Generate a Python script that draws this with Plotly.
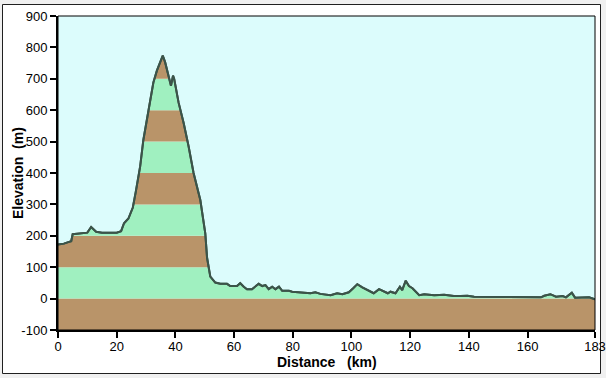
import plotly.graph_objects as go

distance_km = [0, 2, 3.5, 4.5, 5, 10, 11.3, 13, 15, 20, 21.5, 22.5, 24, 25.5, 26.5,
               28, 29.1, 30.3, 31.4, 32.5, 33.7, 34.8, 35.7, 36.5, 37.7, 38.5, 39.2, 39.6,
               41.1, 42.8, 44.5, 46.2, 48.5, 50.2, 50.8, 51.9, 53.6, 55.3, 57.6, 58.7, 61,
               62.1, 63.3, 64.4, 66.1, 67.3, 68.4, 69.6, 70.7, 71.8, 73, 74.1, 75.3, 76.4,
               78.7, 79.8, 82.6, 86, 87.7, 89.4, 92.9, 95.1, 96.9, 99.1, 100.6, 102, 103.7,
               105.4, 107.6, 109.4, 111.1, 112.4, 113.3, 115, 116.5, 117.3, 118.5, 119.6,
               120.8, 123.1, 124.8, 128.2, 131.6, 134.9, 137.2, 139.5, 141.8, 150.9, 154.3,
               164.6, 165.7, 167.8, 169.7, 172, 173.1, 175.1, 176.2, 178.8, 181, 183]
elevation_m = [172, 175, 180, 183, 205, 210, 228, 213, 210, 210, 215, 240, 255, 290, 340,
               421, 506, 571, 635, 688, 726, 753, 774, 753, 704, 678, 710, 699,
               624, 560, 485, 400, 314, 207, 130, 70, 51, 47, 47, 40, 40,
               49, 38, 30, 30, 38, 47, 40, 43, 30, 38, 30, 38, 25,
               25, 22, 20, 17, 20, 15, 11, 17, 14, 20, 33, 46, 36,
               27, 17, 30, 22, 17, 22, 17, 38, 27, 57, 40,
               33, 11, 14, 11, 12, 8, 8, 9, 6, 6, 4,
               4, 9, 14, 6, 8, 4, 19, 3, 3, 4, -2]

y_ticks = [-100, 0, 100, 200, 300, 400, 500, 600, 700, 800, 900]
x_ticks = [0, 20, 40, 60, 80, 100, 120, 140, 160, 183]

BROWN = "#B99469"
GREEN = "#A0F0C0"
SKY = "#DCFCFC"
LINE = "#3B5449"

x_min, x_max = 0, 183
y_min, y_max = -100, 900

fig = go.Figure()

# profile line
fig.add_trace(go.Scatter(x=distance_km, y=elevation_m, mode="lines",
                         line=dict(color=LINE, width=2), hoverinfo="skip",
                         showlegend=False))
# sky above the profile
fig.add_trace(go.Scatter(x=distance_km, y=[y_max] * len(distance_km), mode="lines",
                         line=dict(width=0, color=SKY), fill="tonexty",
                         fillcolor=SKY, hoverinfo="skip", showlegend=False))
# redraw line on top
fig.add_trace(go.Scatter(x=distance_km, y=elevation_m, mode="lines",
                         line=dict(color=LINE, width=2), hoverinfo="skip",
                         showlegend=False))

shapes = []
L, R, T, B = 58, 595, 16, 330
W, H = R - L, B - T
def px(p):
    return (p - L) / W
def py(p):
    return (B - p) / H
# outer white panel with border
shapes.append(dict(type="rect", xref="paper", yref="paper",
                   x0=px(2.5), x1=px(600.5), y0=py(373.5), y1=py(4.5),
                   fillcolor="white", line=dict(color="#202020", width=1),
                   layer="below"))
# elevation bands
for i in range(len(y_ticks) - 1):
    shapes.append(dict(type="rect", xref="x", yref="y",
                       x0=x_min, x1=x_max, y0=y_ticks[i], y1=y_ticks[i + 1],
                       fillcolor=BROWN if i % 2 == 0 else GREEN,
                       line=dict(width=0), layer="below"))
# thin frame around plot area
shapes.append(dict(type="rect", xref="paper", yref="paper", x0=0, x1=1, y0=0, y1=1,
                   line=dict(color="black", width=1), layer="above"))

font_ticks = dict(family="Liberation Sans, Arial, sans-serif", size=13, color="black")
font_title = dict(family="Liberation Sans, Arial, sans-serif", size=14, color="black")

annotations = [
    dict(text="<b>Distance\u00a0\u00a0\u00a0(km)</b>", xref="paper", yref="paper",
         x=px(327), y=py(362), xanchor="center", yanchor="middle",
         showarrow=False, font=font_title),
    dict(text="<b>Elevation\u00a0\u00a0(m)</b>", xref="paper", yref="paper",
         x=px(18), y=py(173), xanchor="center", yanchor="middle", textangle=-90,
         showarrow=False, font=font_title),
]

fig.update_layout(
    width=606, height=378,
    margin=dict(l=L, r=606 - R, t=T, b=378 - B, autoexpand=False),
    paper_bgcolor="#F0F0F0", plot_bgcolor=SKY,
    shapes=shapes, annotations=annotations,
    showlegend=False,
    xaxis=dict(range=[x_min, x_max], tickvals=x_ticks, ticktext=[str(v) for v in x_ticks],
               automargin=False,
               showgrid=False, zeroline=False, showline=True, linecolor="black",
               linewidth=2, ticks="outside", ticklen=6, tickwidth=2, tickcolor="black",
               tickfont=font_ticks, ticklabelstandoff=-3),
    yaxis=dict(range=[y_min, y_max], tickvals=y_ticks, ticktext=[str(v) for v in y_ticks],
               automargin=False,
               showgrid=False, zeroline=False, showline=True, linecolor="black",
               linewidth=2, ticks="outside", ticklen=6, tickwidth=2, tickcolor="black",
               tickfont=font_ticks),
)

fig.write_html("out.html", config={"displayModeBar": False},
               post_script="document.body.style.margin='0';document.body.style.overflow='hidden';")
